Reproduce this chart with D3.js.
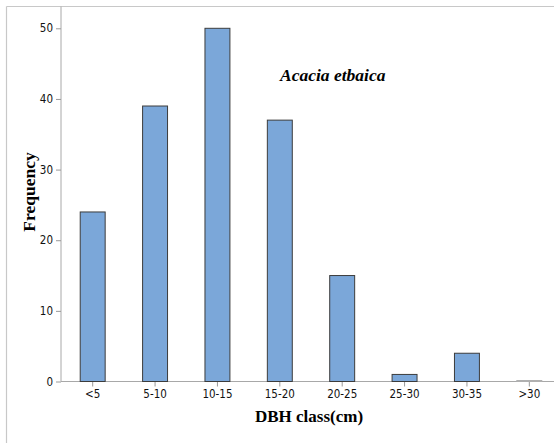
<!DOCTYPE html>
<html><head><meta charset="utf-8">
<script src="https://cdn.jsdelivr.net/npm/d3@7"></script>
<style>
html,body{margin:0;padding:0;background:#fff;}
svg{display:block;}
.tick text{font-family:"Liberation Sans Narrow","DejaVu Sans Condensed","DejaVu Sans",sans-serif;font-size:11.5px;fill:#111;}
</style></head>
<body>
<svg id="chart" width="554" height="443"></svg>
<script>
const categories = ["<5","5-10","10-15","15-20","20-25","25-30","30-35",">30"];
const frequency = [24,39,50,37,15,1,4,0];
const yTicks = [0,10,20,30,40,50];
const title = "Acacia etbaica";
const xTitle = "DBH class(cm)";
const yTitle = "Frequency";

const svg = d3.select("#chart");
const W = 554, H = 443;
const plot = {left:61, right:560, top:6.5, bottom:381.5};

// outer frame
svg.append("line").attr("x1",6.5).attr("x2",W).attr("y1",6.5).attr("y2",6.5).attr("stroke","#c8c8c8").attr("stroke-width",1.2);
svg.append("line").attr("x1",6.5).attr("x2",6.5).attr("y1",6.5).attr("y2",H).attr("stroke","#c8c8c8").attr("stroke-width",1.2);

const x = d3.scaleBand().domain(categories).range([plot.left, plot.right]).paddingInner(0.6).paddingOuter(0.3);
const y = d3.scaleLinear().domain([0,50]).range([plot.bottom, 28.3]);

// axes lines
svg.append("line").attr("x1",plot.left).attr("x2",plot.left).attr("y1",plot.top).attr("y2",plot.bottom).attr("stroke","#a8a8a8");
svg.append("line").attr("x1",plot.left).attr("x2",W).attr("y1",plot.bottom).attr("y2",plot.bottom).attr("stroke","#a8a8a8");

// y axis
const yAxis = svg.append("g").attr("transform",`translate(${plot.left},0)`)
  .call(d3.axisLeft(y).tickValues(yTicks).tickSize(5).tickPadding(3).tickFormat(d3.format("d")));
yAxis.select(".domain").remove();
yAxis.selectAll(".tick line").attr("stroke","#999");

// x axis
const xAxis = svg.append("g").attr("transform",`translate(0.5,${plot.bottom})`)
  .call(d3.axisBottom(x).tickSize(5).tickPadding(3));
xAxis.select(".domain").remove();
xAxis.selectAll(".tick line").attr("stroke","#999");

// bars
svg.append("g").selectAll("rect").data(categories).join("rect")
  .attr("x", d=>x(d)+0.5)
  .attr("y", (d,i)=>y(frequency[i]) - (frequency[i]===0 ? 1 : 0))
  .attr("width", x.bandwidth())
  .attr("height", (d,i)=>plot.bottom - y(frequency[i]) + (frequency[i]===0 ? 1 : 0))
  .attr("fill","#7ba7d9")
  .attr("stroke", (d,i)=> frequency[i]===0 ? "#b0b0b0" : "#3c3c3c")
  .attr("stroke-width",1);

// titles
svg.append("text").attr("x",309).attr("y",421.5).attr("text-anchor","middle")
  .style("font-family","'Liberation Serif','DejaVu Serif',serif").style("font-weight","bold").style("font-size","17px")
  .text(xTitle);
svg.append("text").attr("transform","translate(35,192) rotate(-90)").attr("text-anchor","middle")
  .style("font-family","'Liberation Serif','DejaVu Serif',serif").style("font-weight","bold").style("font-size","17.5px")
  .text(yTitle);
svg.append("text").attr("x",280).attr("y",81).attr("text-anchor","start")
  .style("font-family","'Liberation Serif','DejaVu Serif',serif").style("font-weight","bold").style("font-style","italic").style("font-size","17.5px")
  .text(title);
</script>
</body></html>
